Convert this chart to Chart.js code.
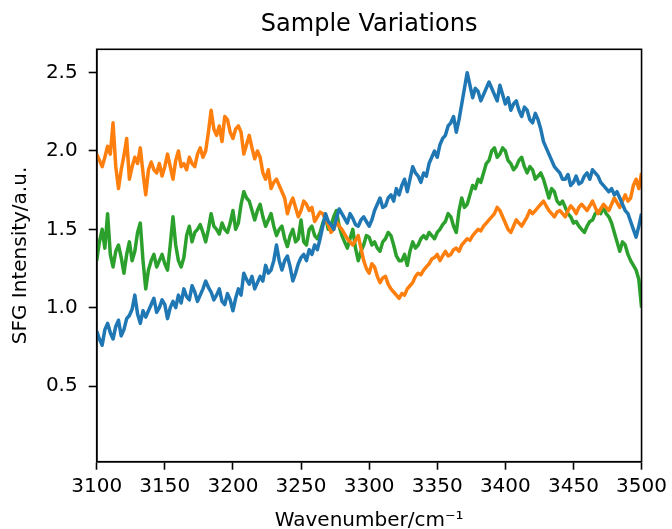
<!DOCTYPE html>
<html>
<head>
<meta charset="utf-8">
<script src="https://cdn.jsdelivr.net/npm/chart.js@4"></script>
<style>
html,body{margin:0;padding:0;background:#fff;}
#wrap{width:672px;height:529px;}
</style>
</head>
<body>
<div id="wrap"><canvas id="c" width="672" height="529"></canvas></div>
<script>
const wavenumbers = [3100,3102,3104,3106,3108,3110,3112,3114,3116,3118,3120,3122,3124,3126,3128,3130,3132,3134,3136,3138,3140,3142,3144,3146,3148,3150,3152,3154,3156,3158,3160,3162,3164,3166,3168,3170,3172,3174,3176,3178,3180,3182,3184,3186,3188,3190,3192,3194,3196,3198,3200,3202,3204,3206,3208,3210,3212,3214,3216,3218,3220,3222,3224,3226,3228,3230,3232,3234,3236,3238,3240,3242,3244,3246,3248,3250,3252,3254,3256,3258,3260,3262,3264,3266,3268,3270,3272,3274,3276,3278,3280,3282,3284,3286,3288,3290,3292,3294,3296,3298,3300,3302,3304,3306,3308,3310,3312,3314,3316,3318,3320,3322,3324,3326,3328,3330,3332,3334,3336,3338,3340,3342,3344,3346,3348,3350,3352,3354,3356,3358,3360,3362,3364,3366,3368,3370,3372,3374,3376,3378,3380,3382,3384,3386,3388,3390,3392,3394,3396,3398,3400,3402,3404,3406,3408,3410,3412,3414,3416,3418,3420,3422,3424,3426,3428,3430,3432,3434,3436,3438,3440,3442,3444,3446,3448,3450,3452,3454,3456,3458,3460,3462,3464,3466,3468,3470,3472,3474,3476,3478,3480,3482,3484,3486,3488,3490,3492,3494,3496,3498,3500];

const blueSeries = [0.85,0.80,0.76,0.86,0.90,0.84,0.80,0.88,0.92,0.82,0.86,0.93,0.95,0.99,1.08,0.96,0.90,0.98,0.94,0.98,1.02,1.06,0.97,1.00,1.05,1.02,0.93,1.00,1.04,1.00,1.08,1.03,1.12,1.07,1.05,1.14,1.10,1.04,1.08,1.12,1.17,1.13,1.10,1.05,1.08,1.12,1.04,1.02,1.09,1.05,0.98,1.06,1.12,1.08,1.22,1.18,1.15,1.20,1.12,1.16,1.20,1.17,1.27,1.22,1.24,1.30,1.40,1.30,1.24,1.30,1.33,1.26,1.17,1.22,1.28,1.32,1.34,1.30,1.37,1.34,1.40,1.37,1.44,1.52,1.60,1.55,1.53,1.50,1.57,1.63,1.60,1.57,1.54,1.60,1.57,1.53,1.52,1.56,1.58,1.55,1.52,1.56,1.62,1.66,1.70,1.64,1.65,1.70,1.72,1.68,1.76,1.72,1.78,1.82,1.74,1.82,1.90,1.86,1.84,1.80,1.86,1.84,1.92,1.96,2.00,1.96,2.04,2.08,2.10,2.16,2.18,2.22,2.12,2.20,2.30,2.40,2.50,2.42,2.34,2.40,2.38,2.32,2.36,2.40,2.44,2.40,2.36,2.32,2.42,2.36,2.30,2.34,2.26,2.30,2.32,2.26,2.22,2.28,2.26,2.20,2.18,2.24,2.20,2.14,2.06,2.02,1.98,1.94,1.90,1.88,1.86,1.82,1.82,1.85,1.78,1.80,1.84,1.79,1.80,1.84,1.86,1.82,1.88,1.86,1.84,1.80,1.78,1.76,1.74,1.76,1.72,1.74,1.70,1.66,1.62,1.60,1.55,1.50,1.45,1.52,1.60];

const orangeSeries = [1.98,1.94,1.90,1.96,2.03,1.98,2.18,1.90,1.76,1.88,1.97,2.08,1.82,1.90,1.96,1.92,2.02,1.86,1.72,1.88,1.93,1.88,1.86,1.92,1.84,1.90,1.98,1.90,1.82,1.94,2.00,1.90,1.92,1.88,1.96,1.92,1.90,1.98,2.02,1.96,2.00,2.12,2.26,2.14,2.10,2.16,2.06,2.22,2.20,2.12,2.08,2.14,2.16,2.12,1.98,2.04,2.10,2.02,1.95,2.00,1.96,1.86,1.82,1.88,1.76,1.80,1.82,1.78,1.74,1.70,1.60,1.66,1.70,1.64,1.58,1.62,1.68,1.66,1.62,1.64,1.55,1.58,1.61,1.60,1.56,1.53,1.48,1.50,1.55,1.52,1.50,1.47,1.44,1.42,1.40,1.43,1.46,1.38,1.30,1.25,1.22,1.28,1.26,1.20,1.16,1.19,1.20,1.15,1.12,1.10,1.08,1.06,1.09,1.08,1.12,1.14,1.16,1.20,1.22,1.21,1.24,1.26,1.28,1.31,1.32,1.34,1.30,1.33,1.36,1.33,1.34,1.37,1.38,1.36,1.40,1.42,1.44,1.43,1.46,1.48,1.50,1.49,1.52,1.54,1.56,1.58,1.60,1.64,1.62,1.58,1.54,1.50,1.48,1.52,1.56,1.54,1.52,1.55,1.58,1.62,1.60,1.62,1.64,1.66,1.68,1.65,1.62,1.60,1.58,1.61,1.62,1.60,1.58,1.62,1.65,1.63,1.60,1.64,1.66,1.64,1.62,1.65,1.68,1.64,1.60,1.63,1.66,1.64,1.62,1.66,1.70,1.67,1.64,1.68,1.72,1.68,1.70,1.78,1.82,1.76,1.86];

const greenSeries = [1.30,1.42,1.50,1.38,1.60,1.34,1.26,1.36,1.40,1.32,1.22,1.34,1.42,1.30,1.36,1.48,1.54,1.30,1.12,1.24,1.30,1.34,1.26,1.30,1.34,1.28,1.24,1.40,1.58,1.40,1.30,1.26,1.32,1.46,1.52,1.42,1.48,1.50,1.53,1.48,1.42,1.50,1.60,1.52,1.50,1.47,1.54,1.50,1.48,1.54,1.62,1.50,1.54,1.66,1.74,1.70,1.68,1.62,1.56,1.62,1.66,1.58,1.52,1.56,1.60,1.52,1.46,1.50,1.52,1.44,1.39,1.46,1.50,1.42,1.44,1.56,1.42,1.40,1.50,1.52,1.46,1.44,1.48,1.54,1.58,1.50,1.52,1.58,1.62,1.52,1.46,1.42,1.38,1.44,1.50,1.38,1.30,1.36,1.40,1.46,1.45,1.40,1.42,1.38,1.36,1.42,1.44,1.48,1.46,1.40,1.33,1.30,1.30,1.34,1.27,1.36,1.42,1.38,1.40,1.44,1.46,1.44,1.48,1.46,1.44,1.48,1.50,1.53,1.55,1.60,1.58,1.52,1.48,1.62,1.70,1.64,1.66,1.72,1.78,1.76,1.82,1.80,1.86,1.92,1.94,2.00,2.02,1.96,1.98,2.02,2.00,1.94,1.92,1.88,1.90,1.94,1.96,1.90,1.86,1.90,1.88,1.82,1.84,1.86,1.82,1.76,1.70,1.76,1.74,1.68,1.66,1.68,1.64,1.60,1.58,1.54,1.55,1.52,1.50,1.48,1.52,1.55,1.56,1.60,1.62,1.60,1.64,1.60,1.58,1.54,1.48,1.42,1.36,1.42,1.40,1.34,1.30,1.27,1.24,1.18,1.00];

const xTickValues = [3100,3150,3200,3250,3300,3350,3400,3450,3500];
const yTickValues = [0.5,1.0,1.5,2.0,2.5];

const seriesColors = ['#1f77b4','#ff7f0e','#2ca02c'];
const FONT = "'DejaVu Sans', sans-serif";

function toPoints(vals){ return wavenumbers.map((x,i)=>({x:x,y:vals[i]})); }

const framePlugin = {
  id:'frame',
  afterDatasetsDraw(chart){
    const a = chart.chartArea, ctx = chart.ctx;
    ctx.save();
    ctx.strokeStyle = '#000';
    ctx.lineWidth = 1.6;
    ctx.strokeRect(a.left, a.top, a.right-a.left, a.bottom-a.top);
    ctx.restore();
  }
};

new Chart(document.getElementById('c'), {
  type:'line',
  data:{
    datasets:[
      {data:toPoints(blueSeries), borderColor:seriesColors[0]},
      {data:toPoints(orangeSeries), borderColor:seriesColors[1]},
      {data:toPoints(greenSeries), borderColor:seriesColors[2]}
    ]
  },
  options:{
    responsive:false,
    animation:false,
    devicePixelRatio:1,
    layout:{padding:{left:0,right:27,top:0,bottom:0}},
    elements:{
      line:{borderWidth:3.5,tension:0,borderJoinStyle:'round',fill:false},
      point:{radius:0,hoverRadius:0}
    },
    plugins:{
      legend:{display:false},
      tooltip:{enabled:false},
      title:{
        display:true,
        text:'Sample Variations',
        color:'#000',
        fullSize:false,
        font:{family:FONT,size:24,weight:'normal',lineHeight:1.2},
        padding:{top:10.6,bottom:9.9}
      }
    },
    scales:{
      x:{
        type:'linear',
        min:3100,max:3500,
        afterBuildTicks(s){ s.ticks = xTickValues.map(v=>({value:v})); },
        afterFit(s){ s.height = 67.3; },
        ticks:{color:'#000',font:{family:FONT,size:20},padding:5,maxRotation:0,autoSkip:false,callback:v=>String(v)},
        grid:{drawOnChartArea:false,drawTicks:true,tickLength:8,tickWidth:1.6,tickColor:'#000'},
        border:{display:true,color:'#000',width:1.6},
        title:{display:true,text:'Wavenumber/cm\u207B\u00B9',color:'#000',font:{family:FONT,size:20,lineHeight:1.2},padding:{top:0,bottom:-3.5}}
      },
      y:{
        type:'linear',
        min:0.017,max:2.649,
        afterBuildTicks(s){ s.ticks = yTickValues.map(v=>({value:v})); },
        afterFit(s){ s.width = 96.7; },
        ticks:{color:'#000',font:{family:FONT,size:20},padding:11,autoSkip:false,callback:v=>Number(v).toFixed(1)},
        grid:{drawOnChartArea:false,drawTicks:true,tickLength:8,tickWidth:1.6,tickColor:'#000'},
        border:{display:true,color:'#000',width:1.6},
        title:{display:true,text:'SFG Intensity/a.u.',color:'#000',font:{family:FONT,size:20,lineHeight:1.2},padding:{top:8.5,bottom:0}}
      }
    }
  },
  plugins:[framePlugin]
});
</script>
</body>
</html>
